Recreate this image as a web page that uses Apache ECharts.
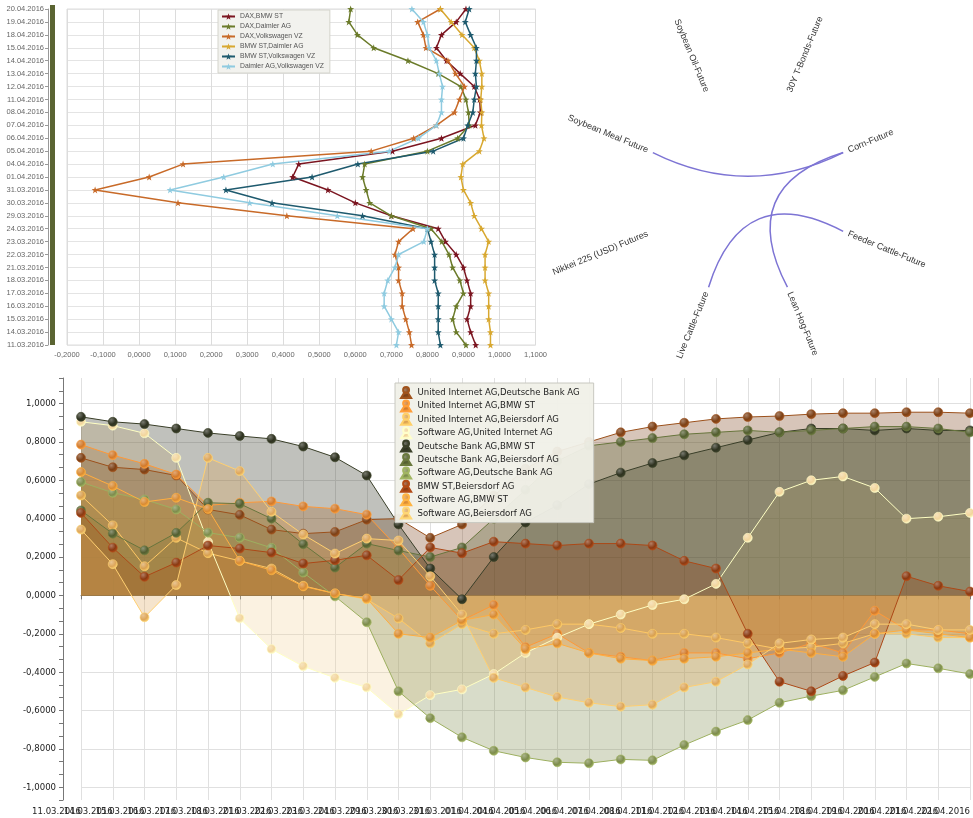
<!DOCTYPE html>
<html>
<head>
<meta charset="utf-8">
<script src="https://cdn.jsdelivr.net/npm/echarts@6/dist/echarts.min.js"></script>
<style>
  html, body { margin: 0; padding: 0; background: #fff; }
  #wrap { position: relative; width: 973px; height: 818px; overflow: hidden; }
  #net { position: absolute; left: 550px; top: 0; width: 423px; height: 370px; }
  #top { position: absolute; left: 0; top: 0; width: 550px; height: 365px; }
  #bottom { position: absolute; left: 0; top: 370px; width: 973px; height: 448px; }
</style>
</head>
<body>
<div id="wrap">
  <div id="net"></div>
  <div id="top"></div>
  <div id="bottom"></div>
</div>
<script>
  // ---- top left: rolling correlations (dates on the vertical axis)
  var topDates = ['11.03.2016', '14.03.2016', '15.03.2016', '16.03.2016', '17.03.2016', '18.03.2016',
    '21.03.2016', '22.03.2016', '23.03.2016', '24.03.2016', '29.03.2016', '30.03.2016', '31.03.2016',
    '01.04.2016', '04.04.2016', '05.04.2016', '06.04.2016', '07.04.2016', '08.04.2016', '11.04.2016',
    '12.04.2016', '13.04.2016', '14.04.2016', '15.04.2016', '18.04.2016', '19.04.2016', '20.04.2016']
  var topNames = ['DAX,BMW ST', 'DAX,Daimler AG', 'DAX,Volkswagen VZ', 'BMW ST,Daimler AG',
    'BMW ST,Volkswagen VZ', 'Daimler AG,Volkswagen VZ']
  var daxBmw = [0.934, 0.92, 0.91, 0.92, 0.92, 0.91, 0.90, 0.88, 0.85, 0.83, 0.70, 0.60, 0.524, 0.426,
    0.443, 0.703, 0.839, 0.933, 0.947, 0.945, 0.93, 0.891, 0.853, 0.825, 0.839, 0.88, 0.907]
  var daxDaimler = [0.907, 0.88, 0.87, 0.88, 0.90, 0.89, 0.87, 0.86, 0.84, 0.81, 0.70, 0.64, 0.63, 0.62,
    0.626, 0.80, 0.884, 0.916, 0.914, 0.907, 0.893, 0.83, 0.746, 0.651, 0.606, 0.582, 0.587]
  var daxVw = [0.756, 0.75, 0.74, 0.73, 0.73, 0.72, 0.72, 0.71, 0.72, 0.76, 0.41, 0.108, -0.122, 0.028,
    0.122, 0.644, 0.762, 0.825, 0.875, 0.889, 0.903, 0.878, 0.857, 0.796, 0.789, 0.773, 0.836]
  var bmwDaimler = [0.975, 0.975, 0.97, 0.97, 0.97, 0.96, 0.96, 0.96, 0.97, 0.95, 0.93, 0.92, 0.90, 0.893,
    0.898, 0.944, 0.957, 0.95, 0.951, 0.948, 0.951, 0.951, 0.944, 0.93, 0.896, 0.866, 0.836]
  var bmwVw = [0.836, 0.83, 0.83, 0.83, 0.83, 0.82, 0.82, 0.82, 0.81, 0.80, 0.62, 0.369, 0.241, 0.48,
    0.607, 0.816, 0.90, 0.912, 0.926, 0.93, 0.936, 0.933, 0.936, 0.936, 0.92, 0.905, 0.916]
  var daimlerVw = [0.714, 0.72, 0.70, 0.68, 0.68, 0.69, 0.71, 0.72, 0.79, 0.80, 0.55, 0.307, 0.086, 0.235,
    0.371, 0.694, 0.775, 0.825, 0.839, 0.839, 0.842, 0.833, 0.825, 0.805, 0.80, 0.789, 0.757]
  var topColors = ['#7b1520', '#6b7b2a', '#c86a28', '#d8a830', '#1e5a6e', '#8fcbe0']

  // ---- top right: correlation network
  var netNodes = ['Feeder Cattle-Future', 'Lean Hog-Future', 'Live Cattle-Future', 'Nikkei 225 (USD) Futures',
    'Soybean Meal Future', 'Soybean Oil-Future', '30Y T-Bonds-Future', 'Corn-Future']
  var netLinks = [['Soybean Meal Future', 'Corn-Future'], ['Corn-Future', 'Lean Hog-Future'],
    ['Live Cattle-Future', 'Feeder Cattle-Future']]

  // ---- bottom: area chart of pair correlations
  var bottomDates = topDates.concat(['21.04.2016', '22.04.2016'])
  var bottomNames = ['United Internet AG,Deutsche Bank AG', 'United Internet AG,BMW ST',
    'United Internet AG,Beiersdorf AG', 'Software AG,United Internet AG', 'Deutsche Bank AG,BMW ST',
    'Deutsche Bank AG,Beiersdorf AG', 'Software AG,Deutsche Bank AG', 'BMW ST,Beiersdorf AG',
    'Software AG,BMW ST', 'Software AG,Beiersdorf AG']
  var uiDb = [0.717, 0.668, 0.656, 0.625, 0.448, 0.42, 0.343, 0.322, 0.331, 0.395, 0.40,
    0.30, 0.37, 0.52, 0.66, 0.75, 0.80, 0.85, 0.88, 0.90, 0.92, 0.93, 0.935, 0.945, 0.95, 0.95, 0.955, 0.955, 0.95]
  var uiBmw = [0.786, 0.731, 0.686, 0.63, 0.469, 0.483, 0.49, 0.464, 0.452, 0.421, 0.244,
    0.05, -0.13, -0.05, -0.27, -0.20, -0.30, -0.32, -0.34, -0.30, -0.30, -0.33, -0.30, -0.25, -0.30, -0.08, -0.18, -0.18, -0.20]
  var uiBei = [0.521, 0.365, 0.152, 0.30, 0.22, 0.18, 0.14, 0.05, 0.01, -0.02, -0.12,
    -0.25, -0.15, -0.20, -0.18, -0.15, -0.15, -0.17, -0.20, -0.20, -0.22, -0.25, -0.28, -0.27, -0.25, -0.20, -0.20, -0.22, -0.22]
  var swUi = [0.905, 0.885, 0.845, 0.717, 0.279, -0.12, -0.28, -0.37, -0.43, -0.48, -0.62,
    -0.52, -0.49, -0.41, -0.30, -0.22, -0.15, -0.10, -0.05, -0.02, 0.06, 0.30, 0.54, 0.60, 0.62, 0.56, 0.40, 0.41, 0.43]
  var dbBmw = [0.931, 0.905, 0.893, 0.87, 0.847, 0.831, 0.816, 0.776, 0.72, 0.625, 0.37,
    0.14, -0.02, 0.20, 0.38, 0.47, 0.58, 0.64, 0.69, 0.73, 0.77, 0.81, 0.85, 0.87, 0.87, 0.86, 0.87, 0.86, 0.86]
  var dbBei = [0.443, 0.322, 0.235, 0.326, 0.483, 0.478, 0.40, 0.267, 0.145, 0.27, 0.234,
    0.20, 0.25, 0.40, 0.55, 0.70, 0.78, 0.80, 0.82, 0.84, 0.85, 0.86, 0.85, 0.86, 0.87, 0.88, 0.88, 0.87, 0.85]
  var swDb = [0.591, 0.535, 0.50, 0.448, 0.327, 0.301, 0.248, 0.119, -0.005, -0.14, -0.50,
    -0.64, -0.74, -0.81, -0.845, -0.87, -0.875, -0.855, -0.86, -0.78, -0.71, -0.65, -0.56, -0.525, -0.495, -0.425, -0.355, -0.38, -0.41]
  var bmwBei = [0.43, 0.249, 0.097, 0.171, 0.26, 0.244, 0.223, 0.166, 0.183, 0.209, 0.08,
    0.25, 0.22, 0.28, 0.27, 0.26, 0.27, 0.27, 0.26, 0.18, 0.14, -0.20, -0.45, -0.50, -0.42, -0.35, 0.10, 0.05, 0.02]
  var swBmw = [0.643, 0.57, 0.487, 0.509, 0.45, 0.18, 0.131, 0.047, 0.01, -0.016, -0.20,
    -0.22, -0.13, -0.10, -0.28, -0.25, -0.30, -0.33, -0.34, -0.33, -0.32, -0.30, -0.28, -0.30, -0.32, -0.20, -0.18, -0.20, -0.22]
  var swBei = [0.343, 0.163, -0.114, 0.054, 0.717, 0.648, 0.436, 0.317, 0.218, 0.296, 0.286,
    0.10, -0.10, -0.43, -0.48, -0.53, -0.56, -0.58, -0.57, -0.48, -0.45, -0.36, -0.25, -0.23, -0.22, -0.15, -0.15, -0.18, -0.18]
  var bottomColors = ['#7c4016', '#d27a2c', '#d9a050', '#f2d59c', '#2e3220', '#535e30', '#7d8c4c',
    '#8a3a12', '#d98b33', '#dea65a']
  var yLabelValues = [-1, -0.8, -0.6, -0.4, -0.2, 0, 0.2, 0.4, 0.6, 0.8, 1]

  function fmt4 (v) {
    return v.toFixed(4).replace('.', ',')
  }

  var star = 'path://M0,-10L2.35,-3.24L9.51,-3.09L3.8,1.24L5.88,8.09L0,4L-5.88,8.09L-3.8,1.24L-9.51,-3.09L-2.35,-3.24Z'
  var person = 'path://M2.5,3.5A3.5,3.5 0 1 1 9.5,3.5A3.5,3.5 0 1 1 2.5,3.5Z M0,13L4,6.5L8,6.5L12,13Z'

  // top left chart
  var topChart = echarts.init(document.getElementById('top'))
  var topData = [daxBmw, daxDaimler, daxVw, bmwDaimler, bmwVw, daimlerVw]
  topChart.setOption({
    animation: false,
    textStyle: { fontFamily: 'Liberation Sans' },
    grid: { left: 67, right: 5, top: 9, bottom: 20, show: true, borderColor: '#ddd', borderWidth: 1 },
    legend: {
      orient: 'vertical', left: 218, top: 10, data: topNames,
      backgroundColor: '#f2f2ee', borderColor: '#d4d4cc', borderWidth: 1, padding: [3, 6, 3, 3],
      itemWidth: 13, itemHeight: 8, itemGap: 3,
      textStyle: { fontSize: 6.8, color: '#555' }
    },
    graphic: [{ type: 'rect', shape: { x: 50, y: 5, width: 5, height: 340 }, style: { fill: '#5a6432' } }],
    xAxis: {
      type: 'value', min: -0.2, max: 1.1, interval: 0.1,
      axisLine: { show: false }, axisTick: { show: false },
      axisLabel: { fontSize: 7.5, color: '#666', margin: 6, formatter: fmt4 },
      splitLine: { lineStyle: { color: '#dcdcdc' } }
    },
    yAxis: {
      type: 'category', data: topDates, boundaryGap: false, offset: 19,
      axisLine: { show: true, onZero: false, lineStyle: { color: '#999' } },
      axisTick: { show: true, length: 3, lineStyle: { color: '#999' } },
      axisLabel: { interval: 0, fontSize: 7.5, color: '#666', margin: 4 },
      splitLine: { show: true, lineStyle: { color: '#e4e4e4' } }
    },
    series: topData.map(function (d, i) {
      return {
        name: topNames[i], type: 'line', data: d,
        symbol: star, symbolSize: 7,
        lineStyle: { width: 1.5, color: topColors[i] },
        itemStyle: { color: topColors[i] }
      }
    })
  })

  // top right network
  var netChart = echarts.init(document.getElementById('net'))
  netChart.setOption({
    animation: false,
    series: [{
      type: 'graph', layout: 'circular',
      circular: { rotateLabel: true },
      left: 95, top: 89, width: 206, height: 206,
      symbolSize: 1,
      itemStyle: { color: 'rgba(0,0,0,0)' },
      label: { show: true, color: '#333', fontSize: 9, fontFamily: 'Liberation Sans', distance: 5 },
      lineStyle: { color: '#7d74d4', width: 1.5, opacity: 1, curveness: 0.4 },
      data: netNodes.map(function (n) { return { name: n } }),
      links: netLinks.map(function (l) { return { source: l[0], target: l[1] } })
    }]
  })

  // bottom chart
  var botChart = echarts.init(document.getElementById('bottom'))
  var botData = [uiDb, uiBmw, uiBei, swUi, dbBmw, dbBei, swDb, bmwBei, swBmw, swBei]
  var botFont = '"DejaVu Sans Condensed", "Liberation Sans", sans-serif'
  function ball (c) {
    return new echarts.graphic.RadialGradient(0.35, 0.3, 0.75, [
      { offset: 0, color: echarts.color.lift(c, 0.35) },
      { offset: 0.6, color: c },
      { offset: 1, color: echarts.color.lift(c, -0.3) }
    ])
  }
  botChart.setOption({
    animation: false,
    textStyle: { fontFamily: botFont },
    grid: { left: 81, right: -4, top: 8, bottom: 18 },
    legend: {
      orient: 'vertical', left: 395, top: 13, data: bottomNames,
      icon: person, itemWidth: 13, itemHeight: 11, itemGap: 0.4,
      backgroundColor: 'rgba(240,240,232,0.95)', borderColor: '#c8c8c0', borderWidth: 1,
      padding: [3, 14, 3, 5],
      textStyle: { fontSize: 9.5, lineHeight: 11, color: '#222', fontFamily: botFont }
    },
    xAxis: {
      type: 'category', data: bottomDates, boundaryGap: false,
      axisLine: { lineStyle: { color: '#777' } },
      axisTick: { length: 4, lineStyle: { color: '#777' } },
      axisLabel: { interval: 0, align: 'right', fontSize: 9.5, color: '#222', margin: 7 },
      splitLine: { show: true, lineStyle: { color: '#e0e0e0' } }
    },
    yAxis: [{
      type: 'value', min: -16 / 15, max: 17 / 15, interval: 1 / 15, offset: 18,
      axisLine: { show: true, lineStyle: { color: '#777' } },
      axisTick: { show: true, length: 4, lineStyle: { color: '#777' } },
      axisLabel: {
        fontSize: 9.5, color: '#222', margin: 7,
        formatter: function (v) {
          return Math.abs(v * 5 - Math.round(v * 5)) < 1e-6 ? fmt4(Math.round(v * 5) / 5) : ''
        }
      },
      splitLine: { show: false }
    }, {
      type: 'value', min: -16 / 15, max: 17 / 15, position: 'left',
      axisLine: { show: false }, axisLabel: { show: false },
      axisTick: { show: false, customValues: yLabelValues },
      splitLine: { show: true, lineStyle: { color: '#e0e0e0' } }
    }],
    series: botData.map(function (d, i) {
      return {
        name: bottomNames[i], type: 'line', data: d, yAxisIndex: 0,
        symbol: 'circle', symbolSize: 9,
        lineStyle: { width: 1, color: echarts.color.lift(bottomColors[i], -0.25) },
        itemStyle: { color: ball(bottomColors[i]), borderColor: echarts.color.lift(bottomColors[i], -0.3), borderWidth: 0.6 },
        areaStyle: { color: bottomColors[i], opacity: 0.3 }
      }
    })
  })
</script>
</body>
</html>
